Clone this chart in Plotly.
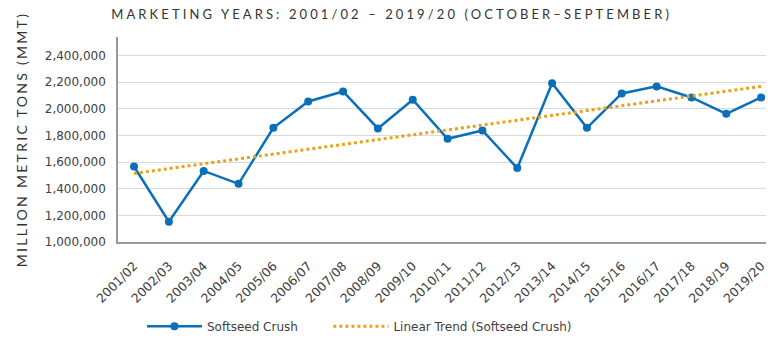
import plotly.graph_objects as go

categories = ["2001/02", "2002/03", "2003/04", "2004/05", "2005/06", "2006/07", "2007/08",
              "2008/09", "2009/10", "2010/11", "2011/12", "2012/13", "2013/14", "2014/15",
              "2015/16", "2016/17", "2017/18", "2018/19", "2019/20"]
softseed_crush = [1567000, 1153000, 1534000, 1437000, 1858000, 2056000, 2131000,
                  1853000, 2069000, 1775000, 1838000, 1555000, 2192000, 1858000,
                  2116000, 2169000, 2086000, 1963000, 2086000]
trend_categories = ["2001/02", "2019/20"]
trend_values = [1515000, 2169000]
y_tick_values = [1000000, 1200000, 1400000, 1600000, 1800000, 2000000, 2200000, 2400000]
y_tick_labels = ["1,000,000", "1,200,000", "1,400,000", "1,600,000", "1,800,000",
                 "2,000,000", "2,200,000", "2,400,000"]

title_text = "MARKETING YEARS: 2001/02 – 2019/20 (OCTOBER–SEPTEMBER)"
y_title_text = "MILLION METRIC TONS (MMT)"

BLUE = "#0a6fb8"
ORANGE = "#e8a21a"
GRAY_TEXT = "#404040"
TICK_FONT = "DejaVu Sans"

fig = go.Figure()
fig.add_trace(go.Scatter(
    x=categories, y=softseed_crush, mode="lines+markers", name="Softseed Crush",
    line=dict(color=BLUE, width=2.5), marker=dict(color=BLUE, size=8),
    legend="legend",
))
fig.add_trace(go.Scatter(
    x=trend_categories, y=trend_values, mode="lines", name="Linear Trend (Softseed Crush)",
    line=dict(color=ORANGE, width=3, dash="dot"),
    legend="legend2",
))

legend_common = dict(orientation="h", y=-0.34, yanchor="top", xanchor="left",
                     font=dict(family=TICK_FONT, size=12, color=GRAY_TEXT),
                     itemwidth=55, bgcolor="rgba(0,0,0,0)")

fig.update_layout(
    width=768, height=342,
    margin=dict(l=118, r=0, t=37, b=100),
    paper_bgcolor="white", plot_bgcolor="white",
    font=dict(family=TICK_FONT, size=12, color=GRAY_TEXT),
    title=dict(
        text='<span style="letter-spacing:3.1px">' + title_text + '</span>',
        x=0.51, xanchor="center", y=0.958, yanchor="middle",
        font=dict(family="Lato", size=13, color="#333333"),
    ),
    showlegend=True,
    legend=dict(x=0.037, **legend_common),
    legend2=dict(x=0.3247, **legend_common),
    xaxis=dict(
        type="category", categoryorder="array", categoryarray=categories,
        range=[-0.46, 18.14], tickangle=-45, showgrid=False,
        showline=True, linecolor="#9a9a9a", linewidth=1.5,
        ticks="", ticklabelstandoff=10,
        tickfont=dict(family=TICK_FONT, size=12.5, color=GRAY_TEXT),
    ),
    yaxis=dict(
        range=[1000000, 2540000], tickvals=y_tick_values, ticktext=y_tick_labels,
        showgrid=True, gridcolor="#d9d9d9", gridwidth=1.3,
        showline=True, linecolor="#9a9a9a", linewidth=1.5,
        ticks="", ticklabelstandoff=8,
        tickfont=dict(family=TICK_FONT, size=12, color=GRAY_TEXT),
        zeroline=False,
        title=dict(text='<span style="letter-spacing:2.3px">' + y_title_text + '</span>',
                   font=dict(family="Lato", size=14, color="#333333"), standoff=14),
    ),
)

fig.write_html("out.html")
